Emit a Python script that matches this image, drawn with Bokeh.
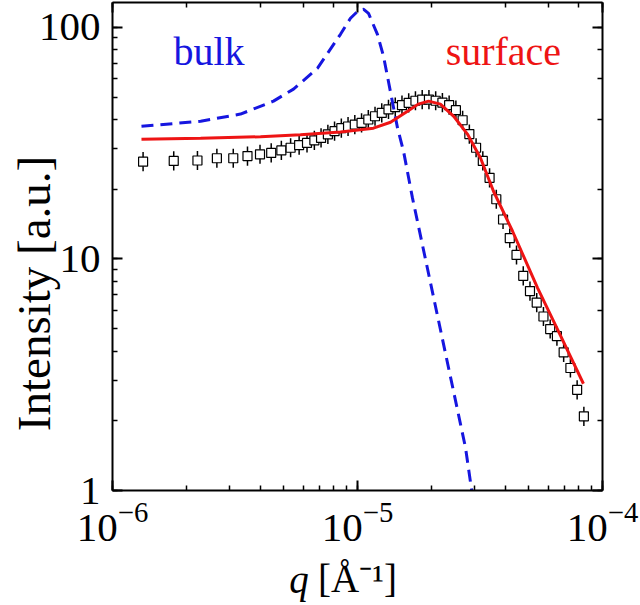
from bokeh.embed import file_html
from bokeh.models import (BasicTickFormatter, FixedTicker, Label, LogAxis,
                          Range1d)
from bokeh.plotting import figure
from bokeh.resources import INLINE

# Measured intensity, q in Å^-1, intensity in arbitrary units
q_data = [
    1.333e-6, 1.778e-6, 2.222e-6, 2.667e-6, 3.111e-6, 3.556e-6, 4.000e-6,
    4.444e-6, 4.889e-6, 5.333e-6, 5.778e-6, 6.222e-6,
    6.667e-6, 7.10e-6, 7.57e-6, 8.06e-6, 8.59e-6, 9.15e-6, 9.75e-6,
    10.39e-6, 11.07e-6, 11.79e-6, 12.56e-6, 13.38e-6, 14.26e-6, 15.19e-6,
    16.18e-6, 17.24e-6, 18.37e-6, 19.57e-6, 20.85e-6, 22.21e-6, 23.66e-6,
    25.21e-6, 26.86e-6, 28.61e-6, 30.48e-6, 32.47e-6, 34.60e-6, 36.86e-6,
    39.27e-6, 41.83e-6, 44.57e-6, 47.48e-6, 50.58e-6, 53.89e-6, 57.41e-6,
    61.16e-6, 65.16e-6, 69.42e-6, 73.96e-6, 78.79e-6, 83.94e-6,
]
I_data = [
    26.3, 26.5, 26.6, 27.2, 27.2, 27.8, 28.3, 28.7, 29.4, 30.2, 31.0, 31.7,
    32.5, 33.3, 34.5, 35.6, 36.7, 37.3, 38.0, 38.7, 40.0, 41.3, 42.7, 44.2,
    45.2, 46.1, 47.2, 48.2, 48.7, 48.7, 48.2, 47.3, 46.1, 43.9, 39.7, 34.6,
    30.2, 26.5, 22.4, 18.1, 14.8, 12.3, 10.4, 8.45, 7.26, 6.48, 5.64, 4.98,
    4.64, 3.95, 3.38, 2.72, 2.09,
]
err_factor = 1.10  # error bars span I / 1.1 ... I * 1.1

# Bulk model curve
q_bulk = [1.313e-6, 2.29e-6, 3.33e-6, 4.54e-6, 5.48e-6, 6.87e-6, 8.52e-6,
          9.36e-6, 10.1e-6, 10.6e-6, 11.09e-6, 12.06e-6, 12.77e-6, 14.57e-6,
          15.41e-6, 16.77e-6, 27.6e-6, 30.0e-6]
I_bulk = [37.4, 39.3, 42.2, 48.0, 54.1, 66.6, 93.3, 109.4, 118.4, 119.6,
          114.9, 93.3, 75.0, 36.7, 29.2, 18.3, 1.53, 0.83]

# Surface model curve
q_surf = [1.313e-6, 2.29e-6, 4.02e-6, 5.85e-6, 8.52e-6, 11.62e-6, 13.64e-6,
          16.0e-6, 17.7e-6, 19.5e-6, 21.8e-6, 24.7e-6, 28.1e-6, 31.8e-6,
          35.9e-6, 42.9e-6, 54.3e-6, 67.4e-6, 83.6e-6]
I_surf = [32.9, 33.2, 33.7, 34.4, 35.3, 36.7, 38.9, 43.4, 46.6, 48.0, 46.6,
          41.3, 34.6, 27.2, 19.6, 13.2, 7.5, 4.66, 2.89]

x_limits = (1e-6, 1e-4)
y_limits = (1, 128)

SERIF = "Liberation Serif"
BLUE = "#1616e0"
RED = "#ee1414"
NBSP = "\u00a0"

p = figure(
    width=640, height=605,
    x_axis_type="log", y_axis_type="log",
    x_range=Range1d(*x_limits), y_range=Range1d(*y_limits),
    output_backend="svg", toolbar_location=None,
    min_border_left=112, min_border_right=38,
    min_border_top=2, min_border_bottom=115,
)
p.grid.visible = False
p.outline_line_color = None
p.background_fill_color = "white"
p.border_fill_color = "white"


def style_axis(ax, show_labels):
    ax.axis_line_width = 2
    ax.axis_line_color = "black"
    ax.major_tick_in = 10
    ax.major_tick_out = 0
    ax.minor_tick_in = 5
    ax.minor_tick_out = 0
    ax.major_tick_line_width = 2
    ax.minor_tick_line_width = 1.5
    ax.major_tick_line_color = "black"
    ax.minor_tick_line_color = "black"
    if show_labels:
        ax.major_label_text_font = SERIF
        ax.major_label_text_font_size = "41px"
        ax.major_label_text_color = "black"
        ax.major_label_standoff = 12
    else:
        ax.major_label_text_font_size = "0px"
        ax.major_label_text_color = None
        ax.major_label_standoff = 0


def style_title(ax, size, style):
    ax.axis_label_text_font = SERIF
    ax.axis_label_text_font_size = size
    ax.axis_label_text_font_style = style
    ax.axis_label_text_color = "black"


xax = p.xaxis[0]
yax = p.yaxis[0]
style_axis(xax, True)
style_axis(yax, True)
yax.formatter = BasicTickFormatter()

# y title reads upward; trailing no-break spaces push the words below
# the frame's midline
yax.axis_label = "Intensity [a.u.]" + NBSP * 8
style_title(yax, "47px", "normal")
yax.axis_label_standoff = -24

# x title: the unit sits on the bottom axis, the italic q on a bare axis
# underneath whose title is pulled up onto the same line
xax.axis_label = "[Å⁻¹]"
style_title(xax, "39px", "normal")
xax.axis_label_standoff = 13

q_axis = LogAxis(ticker=FixedTicker(ticks=[]))
style_axis(q_axis, False)
q_axis.axis_line_color = None
q_axis.major_tick_in = 0
q_axis.minor_tick_in = 0
q_axis.axis_label = "q" + NBSP * 12
style_title(q_axis, "39px", "italic")
q_axis.axis_label_standoff = -45
p.add_layout(q_axis, "below")

top_axis = LogAxis()
right_axis = LogAxis()
style_axis(top_axis, False)
style_axis(right_axis, False)
p.add_layout(top_axis, "above")
p.add_layout(right_axis, "right")

# Error bars, then open squares on top
lo = [v / err_factor for v in I_data]
hi = [v * err_factor for v in I_data]
p.segment(x0=q_data, y0=lo, x1=q_data, y1=hi, line_color="black", line_width=1.5)
p.scatter(q_data, I_data, marker="square", size=9, fill_color="white",
          line_color="black", line_width=1.2)

# Model curves
p.line(q_bulk, I_bulk, line_color=BLUE, line_width=3, line_dash="12 7")
p.line(q_surf, I_surf, line_color=RED, line_width=3)

# Curve names
p.add_layout(Label(x=1.774e-6, y=78.8, text="bulk", text_font=SERIF,
                   text_font_size="40px", text_color=BLUE,
                   text_baseline="middle"))
p.add_layout(Label(x=22.9e-6, y=78.8, text="surface", text_font=SERIF,
                   text_font_size="40px", text_color=RED,
                   text_baseline="middle"))

open("out.html", "w").write(file_html(p, INLINE))
